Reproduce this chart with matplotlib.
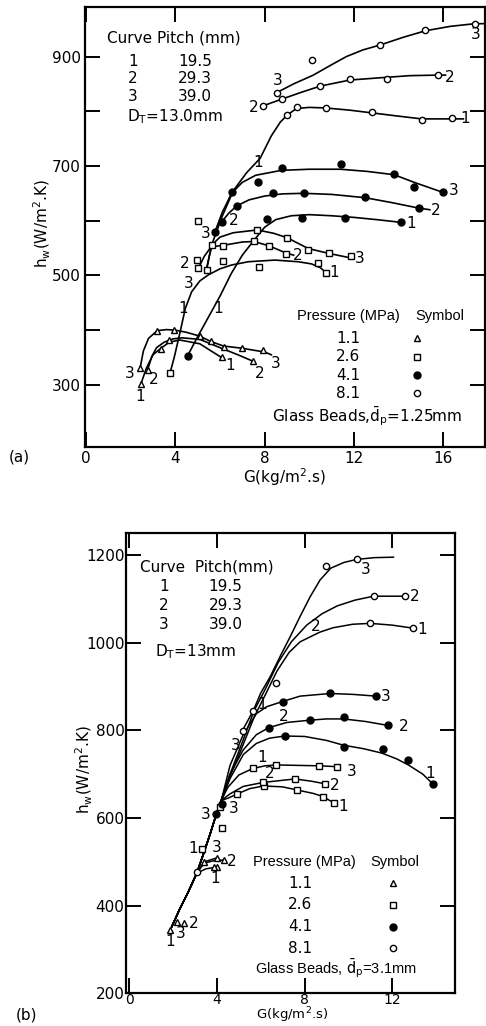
import matplotlib
matplotlib.use("Agg")
import matplotlib.pyplot as plt

plt.rcParams['font.family'] = ['DejaVu Sans']
plt.rcParams['mathtext.fontset'] = 'dejavusans'

# ---------------- panel (a): glass beads dp = 1.25 mm ----------------
# curves as (G, h_w) pairs
a_11_1 = [(2.46, 302), (2.7, 330), (3.0, 355), (3.36, 367), (3.73, 378), (4.2, 382),
          (5.1, 375), (5.6, 362), (6.07, 350)]
a_11_2 = [(2.76, 328), (2.95, 352), (3.16, 368), (3.5, 378), (3.9, 384), (4.3, 386),
          (5.1, 383), (6.0, 368), (6.8, 355), (7.49, 343)]
a_11_3 = [(2.42, 330), (2.57, 362), (2.8, 385), (3.19, 399), (3.6, 401), (3.99, 400),
          (4.5, 396), (5.1, 389), (5.55, 380), (6.15, 371), (6.97, 367), (8.0, 360), (8.3, 355)]

a_26_1 = [(3.76, 321), (3.95, 350), (4.2, 394), (4.45, 440), (4.73, 470), (5.1, 490),
          (5.48, 501), (6.0, 512), (6.52, 519), (7.27, 525), (8.46, 528), (9.5, 525),
          (10.1, 521), (10.5, 514), (10.75, 505)]
a_26_2 = [(5.03, 513), (5.3, 535), (5.6, 552), (6.15, 555), (7.0, 561), (7.52, 562),
          (8.2, 554), (8.95, 541), (9.3, 537)]
a_26_3 = [(5.4, 510), (5.52, 535), (5.65, 556), (6.0, 570), (6.6, 578), (7.67, 583),
          (8.4, 577), (9.0, 569), (9.96, 549), (10.9, 540), (11.85, 532)]

a_41_1 = [(4.55, 353), (5.0, 388), (5.5, 425), (6.0, 462), (6.5, 503), (7.0, 537),
          (7.5, 563), (8.0, 588), (8.5, 602), (9.2, 609), (10.0, 611), (11.0, 609),
          (12.0, 606), (13.0, 602), (14.1, 597)]
a_41_2 = [(6.08, 598), (6.4, 614), (6.75, 627), (7.3, 638), (8.0, 645), (8.8, 649),
          (9.76, 650), (11.0, 648), (12.5, 642), (13.7, 633), (14.9, 623), (15.4, 620)]
a_41_3 = [(5.78, 580), (6.1, 615), (6.52, 650), (7.0, 670), (7.6, 683), (8.76, 692),
          (10.0, 694), (11.4, 694), (12.6, 690), (13.8, 684), (14.7, 670), (15.4, 660),
          (15.97, 652)]

a_81_1 = [(5.4, 512), (5.63, 556), (6.1, 608), (6.6, 655), (7.2, 688), (7.8, 714),
          (8.3, 755), (8.7, 780), (9.01, 793), (9.43, 805), (10.0, 807), (10.73, 806),
          (11.8, 802), (12.8, 797), (14.0, 791), (15.03, 786), (16.38, 786), (16.9, 786)]
a_81_2 = [(7.94, 810), (8.76, 822), (9.6, 834), (10.5, 846), (11.82, 857), (13.47, 862),
          (14.5, 865), (15.75, 866), (16.1, 866)]
a_81_3 = [(8.54, 834), (9.3, 850), (10.18, 866), (11.0, 885), (11.67, 900), (12.4, 912),
          (13.17, 921), (14.2, 935), (15.2, 947), (16.3, 955), (17.42, 960), (17.87, 960)]

a_pts_11 = [(2.42, 330), (2.76, 328), (2.46, 302), (3.16, 398), (3.94, 400), (3.36, 365),
            (3.73, 382), (5.1, 389), (5.62, 380), (6.18, 370), (7.0, 367), (7.94, 363),
            (6.07, 350), (7.49, 344)]
a_pts_26 = [(3.76, 321), (4.96, 528), (5.03, 513), (5.4, 510), (5.66, 556), (6.15, 553),
            (6.15, 526), (7.67, 583), (7.52, 563), (8.2, 553), (9.0, 569), (8.95, 539),
            (9.96, 547), (10.9, 541), (11.85, 536), (10.4, 522), (10.75, 505), (7.76, 516),
            (5.03, 600)]
a_pts_41 = [(4.55, 353), (5.78, 580), (6.08, 598), (6.75, 627), (6.52, 653), (7.72, 671),
            (8.76, 696), (11.4, 703), (13.8, 685), (14.7, 661), (15.97, 653), (8.39, 650),
            (9.76, 651), (12.5, 644), (14.9, 623), (8.09, 603), (9.66, 605), (11.6, 605),
            (14.1, 597)]
a_pts_81 = [(8.54, 834), (10.13, 893), (13.17, 921), (15.2, 948), (17.42, 960),
            (7.94, 810), (8.76, 823), (10.5, 846), (11.82, 859), (13.47, 859), (15.75, 866),
            (9.01, 793), (9.43, 807), (10.73, 806), (12.8, 798), (15.03, 784), (16.38, 787)]

a_curve_labels = [(17.46, 940, "3"), (8.57, 856, "3"), (16.27, 862, "2"), (7.49, 806, "2"),
                  (17.0, 786, "1"), (7.72, 706, "1"), (16.48, 656, "3"), (15.67, 619, "2"),
                  (14.55, 594, "1"), (6.6, 600, "2"), (5.37, 577, "3"), (9.5, 537, "2"),
                  (12.27, 530, "3"), (11.1, 505, "1"), (4.43, 522, "2"), (4.58, 486, "3"),
                  (4.36, 440, "1"), (5.93, 440, "1"), (1.97, 320, "3"), (3.01, 309, "2"),
                  (2.42, 279, "1"), (6.45, 335, "1"), (7.79, 321, "2"), (8.5, 339, "3")]

# ---------------- panel (b): glass beads dp = 3.1 mm ----------------
b_trunk = [(1.94, 352), (2.3, 392), (2.7, 432), (3.08, 474), (3.4, 520), (3.7, 565),
           (3.99, 611), (4.2, 640)]

b_11_1 = [(3.08, 474), (3.5, 484), (4.0, 488)]
b_11_2 = [(3.08, 474), (3.42, 497), (3.9, 503), (4.33, 504)]
b_11_3 = [(3.08, 474), (3.42, 500), (4.0, 509)]

b_26_1 = [(4.5, 645), (4.94, 655), (5.5, 667), (6.13, 673), (7.0, 671), (7.65, 664),
          (8.4, 656), (8.84, 649), (9.35, 634)]
b_26_2 = [(4.6, 655), (5.2, 672), (6.1, 681), (7.0, 686), (7.57, 689), (8.3, 684),
          (8.94, 678)]
b_26_3 = [(4.5, 670), (5.0, 698), (5.64, 713), (6.2, 719), (6.71, 721), (7.7, 720),
          (8.68, 719), (9.5, 717)]

b_41_1 = [(4.6, 690), (5.21, 745), (5.8, 770), (6.4, 782), (7.09, 787), (8.0, 786),
          (9.0, 777), (9.78, 766), (10.7, 758), (11.53, 748), (12.2, 735), (12.74, 721),
          (13.4, 700), (13.85, 678)]
b_41_2 = [(4.6, 700), (5.2, 755), (5.8, 790), (6.36, 806), (7.2, 818), (8.23, 823),
          (9.0, 826), (9.78, 826), (10.8, 820), (11.83, 811)]
b_41_3 = [(4.6, 720), (5.2, 790), (5.8, 838), (6.28, 854), (7.01, 866), (7.8, 878),
          (9.17, 884), (10.2, 882), (11.27, 878)]

b_81_1 = [(4.6, 695), (5.1, 755), (5.7, 830), (6.2, 880), (6.74, 935), (7.3, 978),
          (7.8, 1002), (8.7, 1024), (9.3, 1034), (10.2, 1042), (11.0, 1044), (12.0, 1040),
          (12.97, 1033)]
b_81_2 = [(4.6, 700), (5.1, 765), (5.7, 845), (6.2, 893), (6.8, 955), (7.4, 1002),
          (8.1, 1040), (8.8, 1066), (9.5, 1084), (10.3, 1097), (11.15, 1106), (12.6, 1106)]
b_81_3 = [(5.14, 797), (5.67, 846), (6.0, 885), (6.43, 922), (6.9, 970), (7.35, 1014),
          (7.8, 1060), (8.26, 1105), (8.71, 1143), (9.2, 1170), (9.8, 1183), (10.39, 1190),
          (11.2, 1194), (12.06, 1195)]

b_pts_11 = [(1.87, 345), (2.17, 362), (2.52, 360), (3.42, 500), (4.0, 508), (4.33, 504),
            (4.0, 488), (3.85, 489)]
b_pts_26 = [(4.94, 655), (6.13, 673), (7.65, 664), (8.84, 649), (9.35, 634), (6.1, 681),
            (7.57, 690), (8.94, 678), (5.64, 713), (6.71, 721), (8.68, 719), (9.5, 717),
            (4.15, 626), (4.23, 576), (3.32, 529)]
b_pts_41 = [(3.97, 609), (4.23, 633), (7.01, 865), (9.17, 886), (11.27, 879), (6.36, 805),
            (8.23, 824), (9.78, 830), (11.83, 811), (7.09, 786), (9.81, 763), (11.57, 757),
            (12.74, 732), (13.85, 678)]
b_pts_81 = [(3.1, 476), (5.19, 799), (5.63, 844), (6.69, 909), (8.99, 1176), (10.39, 1190),
            (11.15, 1106), (12.6, 1106), (11.0, 1044), (12.97, 1033)]

b_curve_labels = [(10.77, 1166, "3"), (13.05, 1106, "2"), (13.35, 1030, "1"), (8.49, 1038, "2"),
                  (6.05, 860, "1"), (4.84, 766, "3"), (11.72, 877, "3"), (12.51, 808, "2"),
                  (13.73, 702, "1"), (7.07, 831, "2"), (6.05, 738, "1"), (10.16, 706, "3"),
                  (9.4, 675, "2"), (9.78, 626, "1"), (6.43, 702, "2"), (4.76, 622, "3"),
                  (3.47, 607, "3"), (2.93, 531, "1"), (4.0, 533, "3"), (4.68, 500, "2"),
                  (3.92, 462, "1"), (1.87, 318, "1"), (2.33, 336, "3"), (2.93, 360, "2")]

pitch_curves = ["1", "2", "3"]
pitch_values = ["19.5", "29.3", "39.0"]
pressures = ["1.1", "2.6", "4.1", "8.1"]

# marker styles per pressure
styles = {
    "1.1": dict(marker="^", ms=5, mfc="white", mec="black", mew=1.0),
    "2.6": dict(marker="s", ms=4, mfc="white", mec="black", mew=1.0),
    "4.1": dict(marker="o", ms=5, mfc="black", mec="black", mew=1.0),
    "8.1": dict(marker="o", ms=4.5, mfc="white", mec="black", mew=1.0),
}
FS = 11
NARROW = ['Liberation Sans', 'DejaVu Sans']


def xy(pairs):
    return [p[0] for p in pairs], [p[1] for p in pairs]


def style_axes(ax):
    for s in ax.spines.values():
        s.set_linewidth(1.6)
    ax.tick_params(direction="in", length=11, width=1.4, top=True, right=True,
                   labelsize=FS, pad=3)


fig = plt.figure(figsize=(4.86, 10.26), dpi=100)
W, H = 486, 1026

# ---------- (a) ----------
axa = fig.add_axes([85 / W, 1 - 446.7 / H, 400 / W, 440 / H])
style_axes(axa)
for c in [a_11_1, a_11_2, a_11_3, a_26_1, a_26_2, a_26_3,
          a_41_1, a_41_2, a_41_3, a_81_1, a_81_2, a_81_3]:
    x, y = xy(c)
    axa.plot(x, y, color="black", lw=1.2)
for p, pts in zip(pressures, [a_pts_11, a_pts_26, a_pts_41, a_pts_81]):
    x, y = xy(pts)
    axa.plot(x, y, ls="none", **styles[p])
for x, y, t in a_curve_labels:
    axa.text(x, y, t, fontsize=FS, ha="center", va="center")

axa.set_xlim(-0.045, 17.87)
axa.set_ylim(187, 991)
axa.set_xticks([0, 4, 8, 12, 16])
axa.set_yticks(range(300, 1000, 100))
axa.set_yticklabels([str(v) if v % 200 == 100 else "" for v in range(300, 1000, 100)])

axa.text(0.94, 934, "Curve Pitch (mm)", fontsize=FS, va="center")
for i, (c, v) in enumerate(zip(pitch_curves, pitch_values)):
    yy = 891 - i * 32
    axa.text(2.09, yy, c, fontsize=FS, ha="center", va="center")
    axa.text(4.13, yy, v, fontsize=FS, va="center")
axa.text(1.84, 790, r"D$_\mathrm{T}$=13.0mm", fontsize=FS, va="center")

axa.text(9.45, 425, "Pressure (MPa)", fontsize=10.5, va="center", family=NARROW)
axa.text(14.73, 425, "Symbol", fontsize=10.5, va="center", family=NARROW)
for i, p in enumerate(pressures):
    yy = 385 - i * 33.5
    axa.text(11.75, yy, p, fontsize=FS, ha="center", va="center")
    axa.plot([14.81], [yy], ls="none", **styles[p])
axa.text(8.31, 242, r"Glass Beads,$\mathrm{\bar{d}_p}$=1.25mm", fontsize=FS, va="center")

fig.text(19.5 / W, 1 - 456.7 / H, "(a)", fontsize=FS, ha="center", va="center")
fig.text(284.5 / W, 1 - 476.7 / H, r"G(kg/m$^2$.s)", fontsize=FS, ha="center", va="center")
fig.text(42 / W, 1 - 224 / H, r"h$_\mathrm{w}$(W/m$^2$.K)", fontsize=FS, ha="center",
         va="center", rotation=90)

# ---------- (b) ----------
axb = fig.add_axes([126 / W, 1 - 993.3 / H, 329 / W, 460 / H])
style_axes(axb)
for c in [b_26_1, b_26_2, b_26_3, b_41_1, b_41_2, b_41_3, b_81_1, b_81_2]:
    x, y = xy(b_trunk + c)
    axb.plot(x, y, color="black", lw=1.1)
for c in [b_81_3, b_11_1, b_11_2, b_11_3]:
    x, y = xy(c)
    axb.plot(x, y, color="black", lw=1.1)
for p, pts in zip(pressures, [b_pts_11, b_pts_26, b_pts_41, b_pts_81]):
    x, y = xy(pts)
    axb.plot(x, y, ls="none", **styles[p])
for x, y, t in b_curve_labels:
    axb.text(x, y, t, fontsize=FS, ha="center", va="center")

axb.set_xlim(-0.15, 14.87)
axb.set_ylim(200, 1249.5)
axb.set_xticks([0, 4, 8, 12])
axb.set_yticks([200, 400, 600, 800, 1000, 1200])
axb.tick_params(axis="y", pad=1)
axb.tick_params(axis="x", pad=0, labelsize=10)

axb.text(0.5, 1173, "Curve  Pitch(mm)", fontsize=FS, va="center")
for i, (c, v) in enumerate(zip(pitch_curves, pitch_values)):
    yy = 1129 - i * 43.5
    axb.text(1.57, yy, c, fontsize=FS, ha="center", va="center")
    axb.text(3.62, yy, v, fontsize=FS, va="center")
axb.text(1.19, 979, r"D$_\mathrm{T}$=13mm", fontsize=FS, va="center")

axb.text(5.67, 500, "Pressure (MPa)", fontsize=10.5, va="center", family=NARROW)
axb.text(10.99, 500, "Symbol", fontsize=10.5, va="center", family=NARROW)
for i, p in enumerate(pressures):
    yy = 451 - i * 49.5
    axb.text(7.8, yy, p, fontsize=FS, ha="center", va="center")
    axb.plot([12.05], [yy], ls="none", **styles[p])
axb.text(5.74, 257, r"Glass Beads, $\mathrm{\bar{d}_p}$=3.1mm", fontsize=10.5, va="center",
         family=NARROW)

fig.text(26.7 / W, 1 - 1015 / H, "(b)", fontsize=FS, ha="center", va="center")
fig.text(292 / W, 1 / H, r"G(kg/m$^2$.s)", fontsize=9.5, ha="center", va="bottom")
fig.text(84 / W, 1 - 770 / H, r"h$_\mathrm{w}$(W/m$^2$.K)", fontsize=FS, ha="center",
         va="center", rotation=90)

fig.savefig("out.png", dpi=100, facecolor="white")
